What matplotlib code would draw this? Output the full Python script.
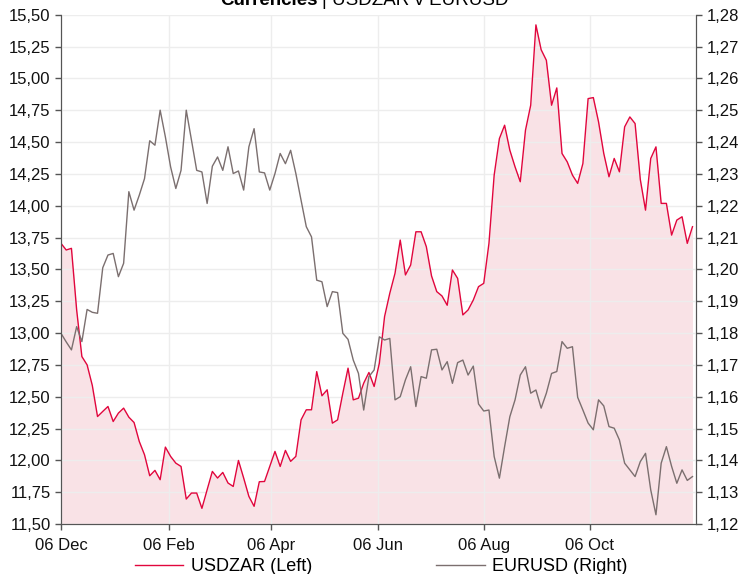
"""Currencies chart: USDZAR (left axis, filled) vs EURUSD (right axis)."""
import matplotlib
matplotlib.use('Agg')
import matplotlib.pyplot as plt
import matplotlib.dates as mdates
from matplotlib.ticker import FuncFormatter, MultipleLocator
import pandas as pd

plt.rcParams['font.family'] = ['Liberation Sans', 'DejaVu Sans']

RED = '#E1063D'
GREY = '#7B6F6F'
FILL = '#F9E2E6'
GRID = '#EDEDED'

# 3-day samples, 06 Dec 2017 onwards
dates = pd.date_range('2017-12-06', periods=122, freq='3D')

usdzar = [
    13.704, 13.652, 13.665, 13.181, 12.815, 12.750, 12.588, 12.344, 12.384, 12.423,
    12.305, 12.371, 12.410, 12.339, 12.297, 12.148, 12.044, 11.879, 11.921, 11.848,
    12.104, 12.031, 11.978, 11.952, 11.696, 11.743, 11.743, 11.623, 11.769, 11.913,
    11.861, 11.905, 11.822, 11.795, 11.999, 11.861, 11.717, 11.639, 11.832, 11.834,
    11.952, 12.070, 11.952, 12.078, 11.992, 12.031, 12.318, 12.397, 12.397, 12.697,
    12.507, 12.554, 12.292, 12.318, 12.527, 12.724, 12.475, 12.488, 12.606, 12.690,
    12.580, 12.763, 13.129, 13.312, 13.469, 13.730, 13.456, 13.534, 13.795, 13.795,
    13.678, 13.448, 13.325, 13.291, 13.218, 13.495, 13.429, 13.142, 13.181, 13.259,
    13.364, 13.390, 13.704, 14.240, 14.527, 14.632, 14.436, 14.305, 14.188, 14.593,
    14.789, 15.420, 15.225, 15.142, 14.789, 14.925, 14.410, 14.344, 14.240, 14.175,
    14.331, 14.841, 14.849, 14.658, 14.410, 14.227, 14.371, 14.266, 14.619, 14.697,
    14.645, 14.206, 13.965, 14.371, 14.462, 14.018, 14.018, 13.769, 13.887, 13.913,
    13.704, 13.835,
]

eurusd = [
    1.1799, 1.1772, 1.1747, 1.1820, 1.1773, 1.1874, 1.1865, 1.1862, 1.2005, 1.2045,
    1.2050, 1.1977, 1.2019, 1.2244, 1.2186, 1.2233, 1.2285, 1.2404, 1.2390, 1.2500,
    1.2416, 1.2322, 1.2254, 1.2311, 1.2500, 1.2406, 1.2311, 1.2306, 1.2207, 1.2324,
    1.2353, 1.2311, 1.2385, 1.2301, 1.2309, 1.2249, 1.2385, 1.2442, 1.2306, 1.2303,
    1.2249, 1.2301, 1.2364, 1.2332, 1.2374, 1.2301, 1.2217, 1.2134, 1.2102, 1.1966,
    1.1961, 1.1883, 1.1930, 1.1927, 1.1799, 1.1780, 1.1715, 1.1673, 1.1558, 1.1663,
    1.1684, 1.1788, 1.1778, 1.1783, 1.1590, 1.1600, 1.1653, 1.1694, 1.1569, 1.1663,
    1.1658, 1.1747, 1.1749, 1.1684, 1.1710, 1.1642, 1.1707, 1.1715, 1.1668, 1.1696,
    1.1577, 1.1555, 1.1558, 1.1412, 1.1344, 1.1443, 1.1537, 1.1590, 1.1668, 1.1694,
    1.1611, 1.1621, 1.1564, 1.1611, 1.1673, 1.1679, 1.1773, 1.1752, 1.1757, 1.1598,
    1.1558, 1.1517, 1.1496, 1.1590, 1.1571, 1.1506, 1.1501, 1.1464, 1.1391, 1.1370,
    1.1349, 1.1396, 1.1422, 1.1307, 1.1229, 1.1391, 1.1443, 1.1381, 1.1328, 1.1370,
    1.1337, 1.1349,
]

tick_dates = pd.to_datetime(['2017-12-06', '2018-02-06', '2018-04-06',
                             '2018-06-06', '2018-08-06', '2018-10-06'])


def comma(fmt):
    return FuncFormatter(lambda v, _: format(v, fmt).replace('.', ','))


fig = plt.figure(figsize=(7.43, 5.74), dpi=100)
ax = fig.add_axes([0.0821, 0.0871, 0.8546, 0.8873])
ax2 = ax.twinx()

ax.fill_between(dates, usdzar, 11.5, color=FILL, linewidth=0, zorder=1)
ax.plot(dates, usdzar, color=RED, linewidth=1.0, zorder=3, label='USDZAR (Left)')
ax2.plot(dates, eurusd, color=GREY, linewidth=1.0, label='EURUSD (Right)')

ax.set_xlim(pd.Timestamp('2017-12-06'), pd.Timestamp('2018-12-06'))
ax.set_ylim(11.5, 15.5)
ax2.set_ylim(1.12, 1.28)

ax.set_xticks(tick_dates)
ax.xaxis.set_major_formatter(mdates.DateFormatter('%d %b'))
ax.yaxis.set_major_locator(MultipleLocator(0.25))
ax.yaxis.set_major_formatter(comma('.2f'))
ax2.yaxis.set_major_locator(MultipleLocator(0.01))
ax2.yaxis.set_major_formatter(comma('.2f'))

ax.grid(True, color=GRID, linewidth=1.0, zorder=2)
ax.set_axisbelow(False)
for a in (ax, ax2):
    a.spines['top'].set_visible(False)
    for s in ('left', 'right', 'bottom'):
        a.spines[s].set_color('#555555')
    a.tick_params(labelsize=12, colors='#555555', labelcolor='#111111',
                  length=4, width=1)
ax.tick_params(axis='x', pad=6)

fig.text(0.428, 0.991, 'Currencies', ha='right', va='baseline',
         fontsize=13.5, fontweight='bold')
fig.text(0.433, 0.991, '| USDZAR v EURUSD', ha='left', va='baseline',
         fontsize=13.5)

handles = ax.get_lines() + ax2.get_lines()
fig.legend(handles, [h.get_label() for h in handles], loc='lower center',
           bbox_to_anchor=(0.513, -0.03), ncol=2, frameon=False, fontsize=13,
           handlelength=2.7, columnspacing=6.9, handletextpad=0.4)

fig.savefig('out.png', dpi=100)
